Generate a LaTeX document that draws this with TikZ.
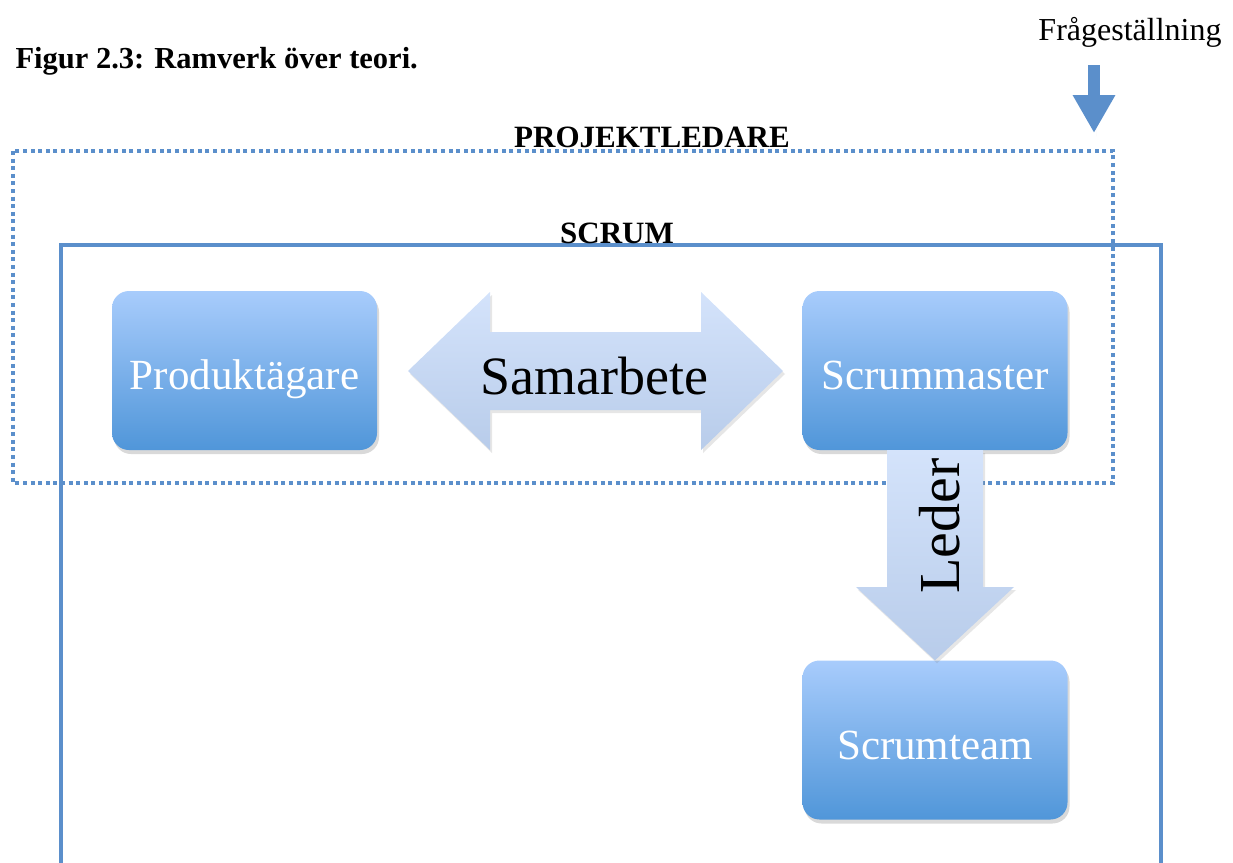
\documentclass[tikz,border=0pt]{standalone}
\usepackage{fontspec}
\setmainfont{Liberation Serif}
\usetikzlibrary{arrows.meta,shadows}
\definecolor{ramblue}{RGB}{91,143,203}
\definecolor{boxtop}{RGB}{168,204,252}
\definecolor{boxbot}{RGB}{80,150,217}
\definecolor{piltop}{RGB}{212,227,251}
\definecolor{pilbot}{RGB}{184,204,234}

\begin{document}
\begin{tikzpicture}[x=1pt, y=-1pt,
  roll/.style={
    rectangle, rounded corners=17pt,
    top color=boxtop, bottom color=boxbot,
    minimum width=265pt, minimum height=159pt,
    text height=38pt, text depth=0pt,
    text=white, font=\fontsize{43}{50}\selectfont,
    drop shadow={opacity=0.3, shadow xshift=2pt, shadow yshift=-4pt}
  },
  blockpil/.style={
    top color=piltop, bottom color=pilbot,
    drop shadow={opacity=0.2, shadow xshift=2pt, shadow yshift=-3pt}
  },
  ram/.style={draw=ramblue, line width=3.5pt},
  rubrik/.style={font=\bfseries\fontsize{31}{36}\selectfont, anchor=base}
]
  \useasboundingbox (0,0) rectangle (1233,862);

  % rubrik och fraga
  \node[anchor=base west, font=\bfseries\fontsize{30.5}{36}\selectfont]
    (titel) at (12,68) {Figur 2.3: Ramverk över teori.};
  \node[anchor=base, font=\fontsize{32}{38}\selectfont]
    (fraga) at (1130,40) {Frågeställning};
  \coordinate (frstart) at (1094,65);
  \coordinate (frtip) at (1094,133);
  \draw[ramblue, line width=12pt, -{Triangle[width=40pt, length=38pt]},
    drop shadow={opacity=0.2, shadow xshift=2pt, shadow yshift=-3pt}]
    (frstart) -- (frtip);

  % ramar
  \draw[ram, line width=4pt, dash pattern=on 4pt off 3.6pt]
    (13,151) rectangle (1113,483);
  \node[rubrik] (projl) at (652,147) {PROJEKTLEDARE};
  \draw[ram] (61,245) rectangle (1161,880);
  \node[rubrik] (scrum) at (617,243) {SCRUM};

  % roller
  \node[roll] (pt) at (244.5,370.5) {Produktägare};
  \node[roll] (sm) at (935,370.5) {Scrummaster};
  \node[roll] (st) at (935,740) {Scrumteam};

  % samarbete
  \path[blockpil] (408,371) -- (490,292) -- (490,332) -- (701,332)
    -- (701,292) -- (783,371) -- (701,450) -- (701,410) -- (490,410)
    -- (490,450) -- cycle;
  \node[font=\fontsize{54}{60}\selectfont] (samarb) at (594,376) {Samarbete};

  % leder
  \path[blockpil] (sm.south -| 887,0) -- (sm.south -| 983,0) -- (983,587)
    -- (1014,587) -- (st.north) -- (856,587) -- (887,587) -- cycle;
  \node[rotate=90, font=\fontsize{58}{64}\selectfont] (leder) at (940,526) {Leder};
\end{tikzpicture}
\end{document}
